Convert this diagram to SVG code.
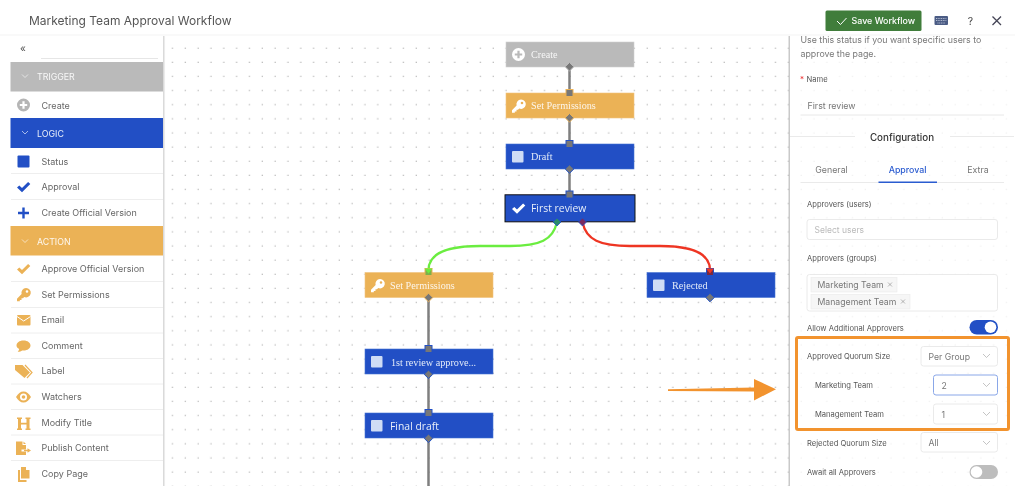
<svg xmlns="http://www.w3.org/2000/svg" width="1024" height="486" viewBox="0 0 1024 486">
<style>
text{font-family:"Inter","Liberation Sans",sans-serif}
.title{font-size:12px;fill:#555}
.side{font-size:9px;fill:#666}
.head{font-size:8.8px;fill:#fff;fill-opacity:.9}
.chev{fill:none;stroke:#fff;stroke-opacity:.75;stroke-width:.8}
.div{stroke:#eee;stroke-width:1}
.ic-o{fill:#ebb257}
.ic-b{fill:#2050c5}
.ser{font-family:"Liberation Serif",serif;font-size:10.2px;fill:#fff;fill-opacity:.88}
.san{font-family:"Open Sans","Liberation Sans",sans-serif;font-size:10.4px;fill:#fff;fill-opacity:.9}
.blue{fill:#2050c5;stroke:#4a74d4;stroke-width:.6}
.gold{fill:#ebb257;stroke:#f0c47e;stroke-width:.6}
.grey{fill:#bababa;stroke:#d0d0d0;stroke-width:.6}
.sq{fill:#cfdcf5}
.wire{fill:none;stroke:#7f7f7f;stroke-width:2.5}
.lab{font-size:7.6px;fill:#555}
.txt{font-size:8.8px;fill:#777}
.val{font-size:8.7px;fill:#777}
.box{fill:#fff;stroke:#e4e4e4;stroke-width:.8}
.arr{fill:none;stroke:#aaa;stroke-width:.7}
.tag{fill:#f6f6f6;stroke:#eaeaea;stroke-width:.6}
.pin{fill:#777;stroke-width:1}
</style>
<defs>
<filter id="soft" x="0" y="0" width="100%" height="100%"><feGaussianBlur stdDeviation="0.3"/></filter>
<pattern id="dots" patternUnits="userSpaceOnUse" x="166.3" y="41.3" width="12.83" height="14.13">
<rect x="5.6" y="6.3" width="1.2" height="1.2" fill="#b4b4b4"/>
</pattern>
<pattern id="dotsF" patternUnits="userSpaceOnUse" x="166.3" y="41.3" width="12.83" height="14.13">
<rect x="5.6" y="6.3" width="1.2" height="1.2" fill="#eeeeee"/>
</pattern>
<linearGradient id="sh" x1="0" x2="1" y1="0" y2="0"><stop offset="0" stop-color="#000" stop-opacity=".18"/><stop offset="1" stop-color="#000" stop-opacity=".01"/></linearGradient>
<path id="key" fill-rule="evenodd" d="M9 0a4.700 4.700 0 1 1-1.800 9L6 10.300H4.500V12H2.800v1.300H0v-2.600L4.600 6A4.700 4.700 0 0 1 9 0zm1 2.200a1.300 1.300 0 1 0 0 2.600 1.300 1.300 0 0 0 0-2.600z"/>
<path id="check" d="M0 5.500 2.300 3.400 5 6 11.100 0 13.300 2.100 5 10.200z"/>
<path id="plusc" fill-rule="evenodd" d="M6.500 0a6.500 6.500 0 1 1 0 13 6.500 6.500 0 0 1 0-13zM5.400 2.800v2.600H2.800v2.200h2.600v2.600h2.200V7.600h2.600V5.400H7.600V2.800z"/>
</defs>
<rect width="1024" height="486" fill="#fff"/>
<g filter="url(#soft)">
<rect x="165" y="36" width="624" height="450" fill="url(#dots)"/>
<rect x="0" y="34.500" width="1015" height="1" fill="#f4f4f4"/>
<text class="title" x="29" y="24.500">Marketing Team Approval Workflow</text>

<g id="sidebar">
<rect x="163" y="36" width="2.500" height="450" fill="url(#sh)"/>
<rect x="10.500" y="36" width="152.500" height="450" fill="#fff"/>
<text x="23" y="52" font-size="10" fill="#555" text-anchor="middle">«</text>
<line x1="41" y1="58.500" x2="158" y2="58.500" stroke="#e6e6e6" stroke-width="1"/>
<rect x="10.500" y="62" width="152.500" height="29.500" fill="#bababa"/>
<path class="chev" d="M22 74.500l3 3 3-3"/>
<text class="head" x="37" y="80">TRIGGER</text>
<use href="#plusc" x="17" y="98.500" fill="#b5b5b5"/>
<text class="side" x="41.500" y="108.500">Create</text>
<rect x="10.500" y="118" width="152.500" height="30" fill="#2050c5"/>
<path class="chev" d="M22 131l3 3 3-3"/>
<text class="head" x="37" y="136.500">LOGIC</text>
<rect class="ic-b" x="17.500" y="155.500" width="12" height="12" rx="1"/>
<text class="side" x="41.500" y="164.500">Status</text>
<line class="div" x1="11" y1="173.500" x2="163" y2="173.500"/>
<use href="#check" class="ic-b" x="17" y="182"/>
<text class="side" x="41.500" y="190">Approval</text>
<line class="div" x1="11" y1="199.500" x2="163" y2="199.500"/>
<path d="M23.500 207.500v11M18 213h11" stroke="#2050c5" stroke-width="2.400" fill="none"/>
<text class="side" x="41.500" y="215.500">Create Official Version</text>
<rect x="10.500" y="226" width="152.500" height="29.500" fill="#ebb257"/>
<path class="chev" d="M22 239.500l3 3 3-3"/>
<text class="head" x="37" y="244.500">ACTION</text>
<use href="#check" class="ic-o" x="17" y="264"/>
<text class="side" x="41.500" y="272">Approve Official Version</text>
<line class="div" x1="11" y1="281.500" x2="163" y2="281.500"/>
<use href="#key" class="ic-o" x="17" y="288"/>
<text class="side" x="41.500" y="297.500">Set Permissions</text>
<line class="div" x1="11" y1="307.500" x2="163" y2="307.500"/>
<rect class="ic-o" x="17" y="315" width="13.500" height="10.500" rx="1"/>
<path d="M17 316.500l6.700 4.500 6.800-4.500" fill="none" stroke="#fff" stroke-width="1"/>
<text class="side" x="41.500" y="323">Email</text>
<line class="div" x1="11" y1="333" x2="163" y2="333"/>
<path class="ic-o" d="M23.700 340.500c3.800 0 6.800 2.300 6.800 5s-3 5-6.800 5l-1.500-.1c-1 .9-2.500 1.300-4.500 1.400.8-.8 1.300-1.700 1.500-2.800-1.700-.9-2.700-2.100-2.700-3.500 0-2.700 3-5 6.700-5z"/>
<text class="side" x="41.500" y="348.700">Comment</text>
<line class="div" x1="11" y1="358.500" x2="163" y2="358.500"/>
<path class="ic-o" d="M15 365h7.500l7.500 7.500-5.500 5.500-9.500-8z"/>
<path d="M25 365l7 7.500-5 5.500" fill="none" stroke="#ebb257" stroke-width="1.200"/>
<text class="side" x="41.500" y="374.300">Label</text>
<line class="div" x1="11" y1="384" x2="163" y2="384"/>
<path class="ic-o" d="M16 397c2-3.500 4.500-5.500 7.500-5.500s5.500 2 7.500 5.500c-2 3.500-4.500 5.500-7.500 5.500s-5.500-2-7.500-5.500zm7.500-3.500a3.500 3.500 0 1 0 0 7 3.500 3.500 0 0 0 0-7z" fill-rule="evenodd"/>
<circle class="ic-o" cx="23.500" cy="397" r="1.800"/>
<text class="side" x="41.500" y="400">Watchers</text>
<line class="div" x1="11" y1="409.500" x2="163" y2="409.500"/>
<path class="ic-o" d="M17 417.500h5v1.500h-1v3.800h5.500V419h-1v-1.500h5v1.500h-1v9.500h1v1.500h-5v-1.500h1v-4H21v4h1v1.500h-5v-1.500h1V419h-1z"/>
<text class="side" x="41.500" y="425.500">Modify Title</text>
<line class="div" x1="11" y1="435" x2="163" y2="435"/>
<path class="ic-o" d="M16 441.500h6.500v3.500h3.500v4.500h-4.500v2h4.500v3.500H16z"/>
<path class="ic-o" d="M23.500 441.500l2.500 2.500h-2.500zM24 449.800h3.500v-1.500l3.500 2.200-3.500 2.200v-1.500H24z"/>
<text class="side" x="41.500" y="451">Publish Content</text>
<line class="div" x1="11" y1="460.500" x2="163" y2="460.500"/>
<path class="ic-o" d="M21 467h5v3h3.500v8.500H21z"/>
<path class="ic-o" d="M18 470h2v10h6.500v2H18z"/>
<text class="side" x="41.500" y="476.500">Copy Page</text>
</g>

<g id="connectors">
<path class="wire" d="M569.500 67V93"/>
<path class="wire" d="M569.500 118V144"/>
<path class="wire" d="M569.500 169V195"/>
<path d="M557 222C553 240 540 246 510 246H480C445 246 428.500 255 428.500 270" fill="none" stroke="#6bed3f" stroke-width="2.300"/>
<path d="M582.500 222C586 240 600 246 630 246H660C695 246 710 255 710 270" fill="none" stroke="#ee3524" stroke-width="2.300"/>
<path class="wire" d="M428.500 298V349"/>
<path class="wire" d="M428.500 374V413"/>
<path class="wire" d="M428.500 438V486"/>
</g>

<g id="node-create">
<rect class="grey" x="506" y="42" width="128" height="25"/>
<use href="#plusc" x="512" y="48" fill="#fff"/>
<text class="ser" x="531" y="58">Create</text>
<path class="pin" d="M569.500 62.500l4.300 4.300-4.300 4.300-4.300-4.300z" stroke="#bababa"/>
</g>
<g id="node-set-permissions-1">
<rect class="gold" x="506" y="93" width="128" height="25"/>
<use href="#key" fill="#fff" x="512" y="99.500"/>
<text class="ser" x="531" y="109">Set Permissions</text>
<rect class="pin" x="566" y="89.500" width="7" height="7" stroke="#ebb257"/>
<path class="pin" d="M569.500 113.500l4.300 4.300-4.300 4.300-4.300-4.300z" stroke="#ebb257"/>
</g>
<g id="node-draft">
<rect class="blue" x="506" y="144" width="128" height="25"/>
<rect class="sq" x="512" y="151" width="11.500" height="11.500" rx="1"/>
<text class="ser" x="531" y="160">Draft</text>
<rect class="pin" x="566" y="140.500" width="7" height="7" stroke="#2050c5"/>
<path class="pin" d="M569.500 164.700l4.300 4.300-4.300 4.300-4.300-4.300z" stroke="#2050c5"/>
</g>
<g id="node-first-review">
<rect x="505" y="194.800" width="130" height="27" fill="#2050c5" stroke="#111" stroke-width="1"/>
<use href="#check" fill="#fff" x="512" y="203.500"/>
<text class="san" x="531" y="212">First review</text>
<rect class="pin" x="566" y="191" width="7" height="7" stroke="#2050c5"/>
<path d="M557 218l4 4-4 4-4-4z" fill="#2b8a6a" stroke="#2050c5" stroke-width=".8"/>
<path d="M582.500 218l4 4-4 4-4-4z" fill="#7a2a60" stroke="#2050c5" stroke-width=".8"/>
</g>
<g id="node-set-permissions-2">
<rect class="gold" x="365" y="272.500" width="128" height="25"/>
<use href="#key" fill="#fff" x="371" y="279"/>
<text class="ser" x="390" y="288.500">Set Permissions</text>
<rect x="425" y="268.500" width="7" height="7" fill="#7cb04a" stroke="#ebb257" stroke-width="1"/>
<path d="M424.500 268.500h8l-4 5z" fill="#6bed3f"/>
<path class="pin" d="M428.500 293.200l4.300 4.300-4.300 4.300-4.300-4.300z" stroke="#ebb257"/>
</g>
<g id="node-rejected">
<rect class="blue" x="647" y="272.500" width="128" height="25"/>
<rect class="sq" x="653" y="279.500" width="11.500" height="11.500" rx="1"/>
<text class="ser" x="672" y="288.500">Rejected</text>
<rect x="706.500" y="268.500" width="7" height="7" fill="#7a2a40" stroke="#2050c5" stroke-width="1"/>
<path d="M706 268.500h8l-4 5z" fill="#ee3524"/>
<path class="pin" d="M710 293.200l4.300 4.300-4.300 4.300-4.300-4.300z" stroke="#2050c5"/>
</g>
<g id="node-first-approved">
<rect class="blue" x="365" y="349" width="128" height="25"/>
<rect class="sq" x="371" y="356" width="11.500" height="11.500" rx="1"/>
<text class="ser" x="391" y="366">1st review approve...</text>
<rect class="pin" x="425" y="345.500" width="7" height="7" stroke="#2050c5"/>
<path class="pin" d="M428.500 370l4.300 4.300-4.300 4.300-4.300-4.300z" stroke="#2050c5"/>
</g>
<g id="node-final-draft">
<rect class="blue" x="365" y="413" width="128" height="25"/>
<rect class="sq" x="371" y="420" width="11.500" height="11.500" rx="1"/>
<text class="san" x="390" y="430">Final draft</text>
<rect class="pin" x="425" y="409.500" width="7" height="7" stroke="#2050c5"/>
<path class="pin" d="M428.500 434l4.300 4.300-4.300 4.300-4.300-4.300z" stroke="#2050c5"/>
</g>

<g id="toolbar">
<rect x="825.500" y="10.500" width="96" height="20.500" rx="1.500" fill="#3f7d3a"/>
<path d="M837 21l3.500 3.500 6-6.500" fill="none" stroke="#fff" stroke-width="1"/>
<text x="851.500" y="24" font-size="8.900" fill="#fff" font-weight="500">Save Workflow</text>
<rect x="934.500" y="16" width="13.500" height="9" rx="1" fill="#4b5c85"/>
<path d="M936 18.500h10.500M936 20.500h10.500M937.500 23h7.500" stroke="#cfd6e6" stroke-width=".8" stroke-dasharray="1 .7" fill="none"/>
<text x="970.500" y="25" font-size="10.500" fill="#444" text-anchor="middle">?</text>
<path d="M992.500 16.500l8.500 8.500M1001 16.500l-8.500 8.500" stroke="#445" stroke-width="1.300" fill="none"/>
</g>

<g id="panel">
<rect x="788.500" y="36" width="1.800" height="450" fill="#c9c9c9"/>
<rect x="790" y="36" width="225" height="450" fill="#fff"/>
<rect x="790" y="36" width="225" height="450" fill="url(#dotsF)"/>
<text class="txt" x="800.500" y="43">Use this status if you want specific users to</text>
<text class="txt" x="800.500" y="57">approve the page.</text>
<text x="800" y="82" font-size="8" fill="#e33">*</text>
<text class="lab" x="806.500" y="82">Name</text>
<text class="txt" x="807.500" y="108.500">First review</text>
<line x1="800.500" y1="115" x2="1004" y2="115" stroke="#e8e8e8"/>
<line x1="790" y1="136.500" x2="855" y2="136.500" stroke="#eaeaea"/>
<line x1="950" y1="136.500" x2="1014" y2="136.500" stroke="#eaeaea"/>
<text x="902" y="140.500" font-size="9.800" font-weight="500" fill="#333" text-anchor="middle">Configuration</text>
<text class="txt" x="831.500" y="173" text-anchor="middle">General</text>
<text x="907.500" y="173" font-size="8.800" font-weight="500" fill="#2a5bd0" text-anchor="middle">Approval</text>
<text class="txt" x="978" y="173" text-anchor="middle">Extra</text>
<line x1="800.500" y1="182.500" x2="1004" y2="182.500" stroke="#eaeaea"/>
<rect x="878.500" y="181.500" width="58.500" height="1.500" fill="#2a5bd0"/>
<text class="lab" x="807" y="207">Approvers (users)</text>
<rect class="box" x="807" y="219.500" width="190.500" height="20" rx="2.500"/>
<text x="814.500" y="233" font-size="8.500" fill="#bbb">Select users</text>
<text class="lab" x="807" y="261">Approvers (groups)</text>
<rect class="box" x="807" y="274.500" width="190.500" height="36.500" rx="2.500"/>
<rect class="tag" x="811" y="277.500" width="86" height="14.500"/>
<text class="val" x="817.500" y="288">Marketing Team</text>
<path d="M888 282.500l4 4M892 282.500l-4 4" stroke="#888" stroke-width=".6" fill="none"/>
<rect class="tag" x="811" y="294.500" width="99" height="14.500"/>
<text class="val" x="817.500" y="305">Management Team</text>
<path d="M901 299.500l4 4M905 299.500l-4 4" stroke="#888" stroke-width=".6" fill="none"/>
<text class="lab" x="807" y="330.500">Allow Additional Approvers</text>
<rect x="969.500" y="320" width="28.500" height="14.500" rx="7.250" fill="#2050c5"/>
<circle cx="990.500" cy="327.250" r="5.800" fill="#fff"/>
<text class="lab" x="807" y="359">Approved Quorum Size</text>
<rect class="box" x="921" y="346.500" width="76.500" height="19.500" rx="2.500"/>
<text class="val" x="928.500" y="359.500">Per Group</text>
<path class="arr" d="M983 354l3.500 3.500 3.500-3.500"/>
<text class="lab" x="815" y="388">Marketing Team</text>
<rect x="933.500" y="375" width="64" height="20" rx="2.500" fill="#fff" stroke="#8aa7e8" stroke-width="1"/>
<text class="val" x="941.500" y="388.500">2</text>
<path class="arr" d="M983 383l3.500 3.500 3.500-3.500"/>
<text class="lab" x="815" y="417">Management Team</text>
<rect class="box" x="933.500" y="404" width="64" height="20" rx="2.500"/>
<text class="val" x="941.500" y="417.500">1</text>
<path class="arr" d="M983 412l3.500 3.500 3.500-3.500"/>
<rect x="796.500" y="337.500" width="212" height="92" rx="1.500" fill="none" stroke="#f2932e" stroke-width="3"/>
<text class="lab" x="807" y="445.500">Rejected Quorum Size</text>
<rect class="box" x="921" y="432.500" width="76.500" height="19.500" rx="2.500"/>
<text class="val" x="928.500" y="445.500">All</text>
<path class="arr" d="M983 441l3.500 3.500 3.500-3.500"/>
<text class="lab" x="807" y="474.500">Await all Approvers</text>
<rect x="969.500" y="465" width="28.500" height="14" rx="7" fill="#bdbdbd"/>
<circle cx="976.500" cy="472" r="5.800" fill="#fff"/>
</g>

<path id="callout-arrow" d="M668 389.200 754 387.500V379L776 389.200 754 400.500V391.500L668 391z" fill="#f2932e"/>
</g>
</svg>
